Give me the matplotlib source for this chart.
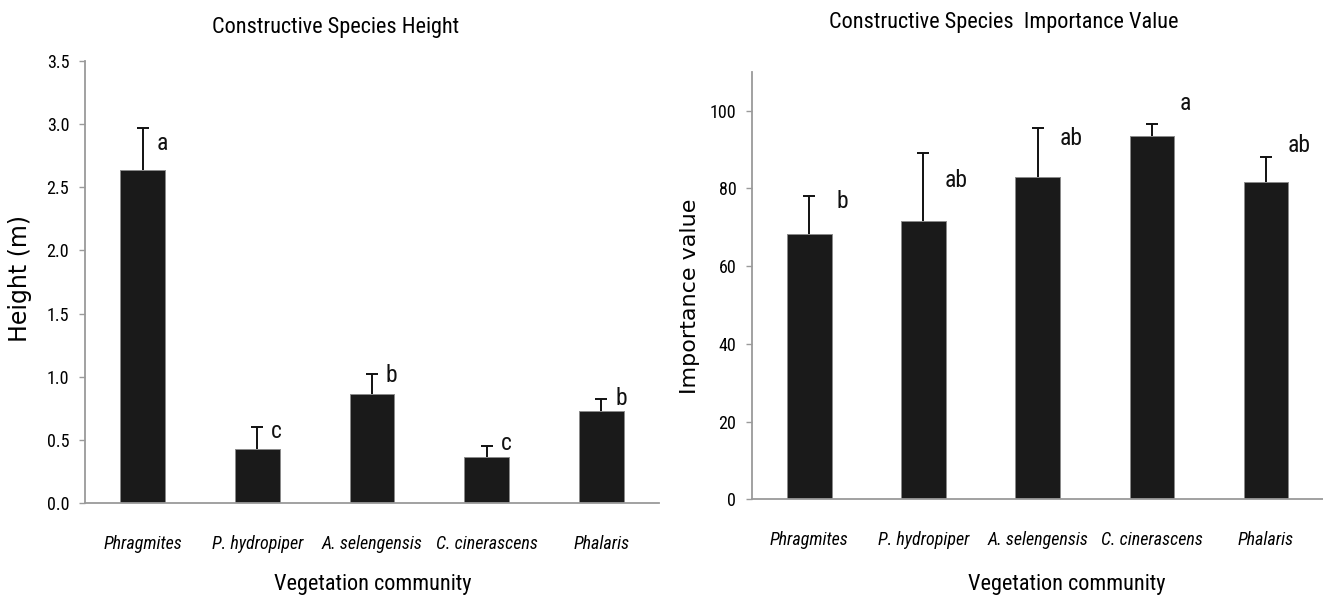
import matplotlib
matplotlib.use('Agg')
import matplotlib.pyplot as plt
from matplotlib import font_manager

# Data
species = ['Phragmites', 'P. hydropiper', 'A. selengensis', 'C. cinerascens', 'Phalaris']

height_mean = [2.64, 0.43, 0.86, 0.365, 0.73]
height_err = [0.33, 0.17, 0.16, 0.085, 0.09]
height_letters = ['a', 'c', 'b', 'c', 'b']
height_letter_y = [2.85, 0.57, 1.01, 0.47, 0.83]

iv_mean = [68.2, 71.5, 83.0, 93.5, 81.5]
iv_err = [9.8, 17.5, 12.5, 3.0, 6.5]
iv_letters = ['b', 'ab', 'ab', 'a', 'ab']
iv_letter_y = [76.7, 82.1, 92.8, 101.9, 91.1]

# pick a condensed font if one is installed
installed = {f.name for f in font_manager.fontManager.ttflist}
narrow = 'Liberation Sans'
for cand in ['Liberation Sans Narrow', 'Arial Narrow', 'Nimbus Sans Narrow', 'Roboto Condensed']:
    if cand in installed:
        narrow = cand
        break
wide = 'DejaVu Sans'

plt.rcParams['font.family'] = [narrow, 'DejaVu Sans']

fig = plt.figure(figsize=(13.23, 6.01), dpi=100)
ax1 = fig.add_axes([0.0644, 0.163, 0.4336, 0.7355])
ax2 = fig.add_axes([0.5686, 0.1692, 0.4314, 0.7115])

bar_color = '#1a1a1a'
spine_color = '#9a9a9a'


def draw_panel(ax, means, errs, letters, letter_y, dx, ylim, yticks, ticklabels):
    x = list(range(len(species)))
    ax.bar(x, means, width=0.39, color=bar_color, edgecolor='#8a8a8a', linewidth=0.7, zorder=2)
    # upper error bars only
    _, caps, _ = ax.errorbar(x, means, yerr=[[0] * len(errs), errs], fmt='none', ecolor='#111111',
                             elinewidth=1.4, capsize=4.5, capthick=1.4, zorder=3)
    caps[0].set_visible(False)
    for xi, lab, ly in zip(x, letters, letter_y):
        ax.text(xi + dx, ly, lab, ha='center', va='center', fontsize=17, color='#111111')
    ax.set_xlim(-0.5, 4.5)
    ax.set_ylim(*ylim)
    ax.set_yticks(yticks)
    ax.set_yticklabels(ticklabels, fontsize=13)
    ax.set_xticks(x)
    ax.set_xticklabels(species, fontsize=13, style='italic')
    for s in ['top', 'right']:
        ax.spines[s].set_visible(False)
    for s in ['left', 'bottom']:
        ax.spines[s].set_color(spine_color)
        ax.spines[s].set_linewidth(1.3)
    ax.tick_params(axis='x', length=0, pad=23)
    ax.tick_params(axis='y', length=4.5, width=1.0, color=spine_color, pad=7)


h_ticks = [0, 0.5, 1.0, 1.5, 2.0, 2.5, 3.0, 3.5]
draw_panel(ax1, height_mean, height_err, height_letters, height_letter_y, 0.17,
           (0, 3.5), h_ticks, [f'{t:.1f}' for t in h_ticks])

iv_ticks = [0, 20, 40, 60, 80, 100]
draw_panel(ax2, iv_mean, iv_err, iv_letters, iv_letter_y, 0.29,
           (0, 110), iv_ticks, [str(t) for t in iv_ticks])

# titles and axis labels
fig.text(0.254, 0.955, 'Constructive Species Height', ha='center', va='center', fontsize=16)
fig.text(0.759, 0.963, 'Constructive Species  Importance Value', ha='center', va='center', fontsize=16)
fig.text(0.282, 0.027, 'Vegetation community', ha='center', va='center', fontsize=16)
fig.text(0.806, 0.027, 'Vegetation community', ha='center', va='center', fontsize=16)
fig.text(0.0148, 0.5374, 'Height (m)', ha='center', va='center', rotation=90,
         fontsize=17, family=wide)
fig.text(0.5215, 0.5075, 'Importance value', ha='center', va='center', rotation=90,
         fontsize=16, family=wide)

fig.savefig('out.png', dpi=100)
